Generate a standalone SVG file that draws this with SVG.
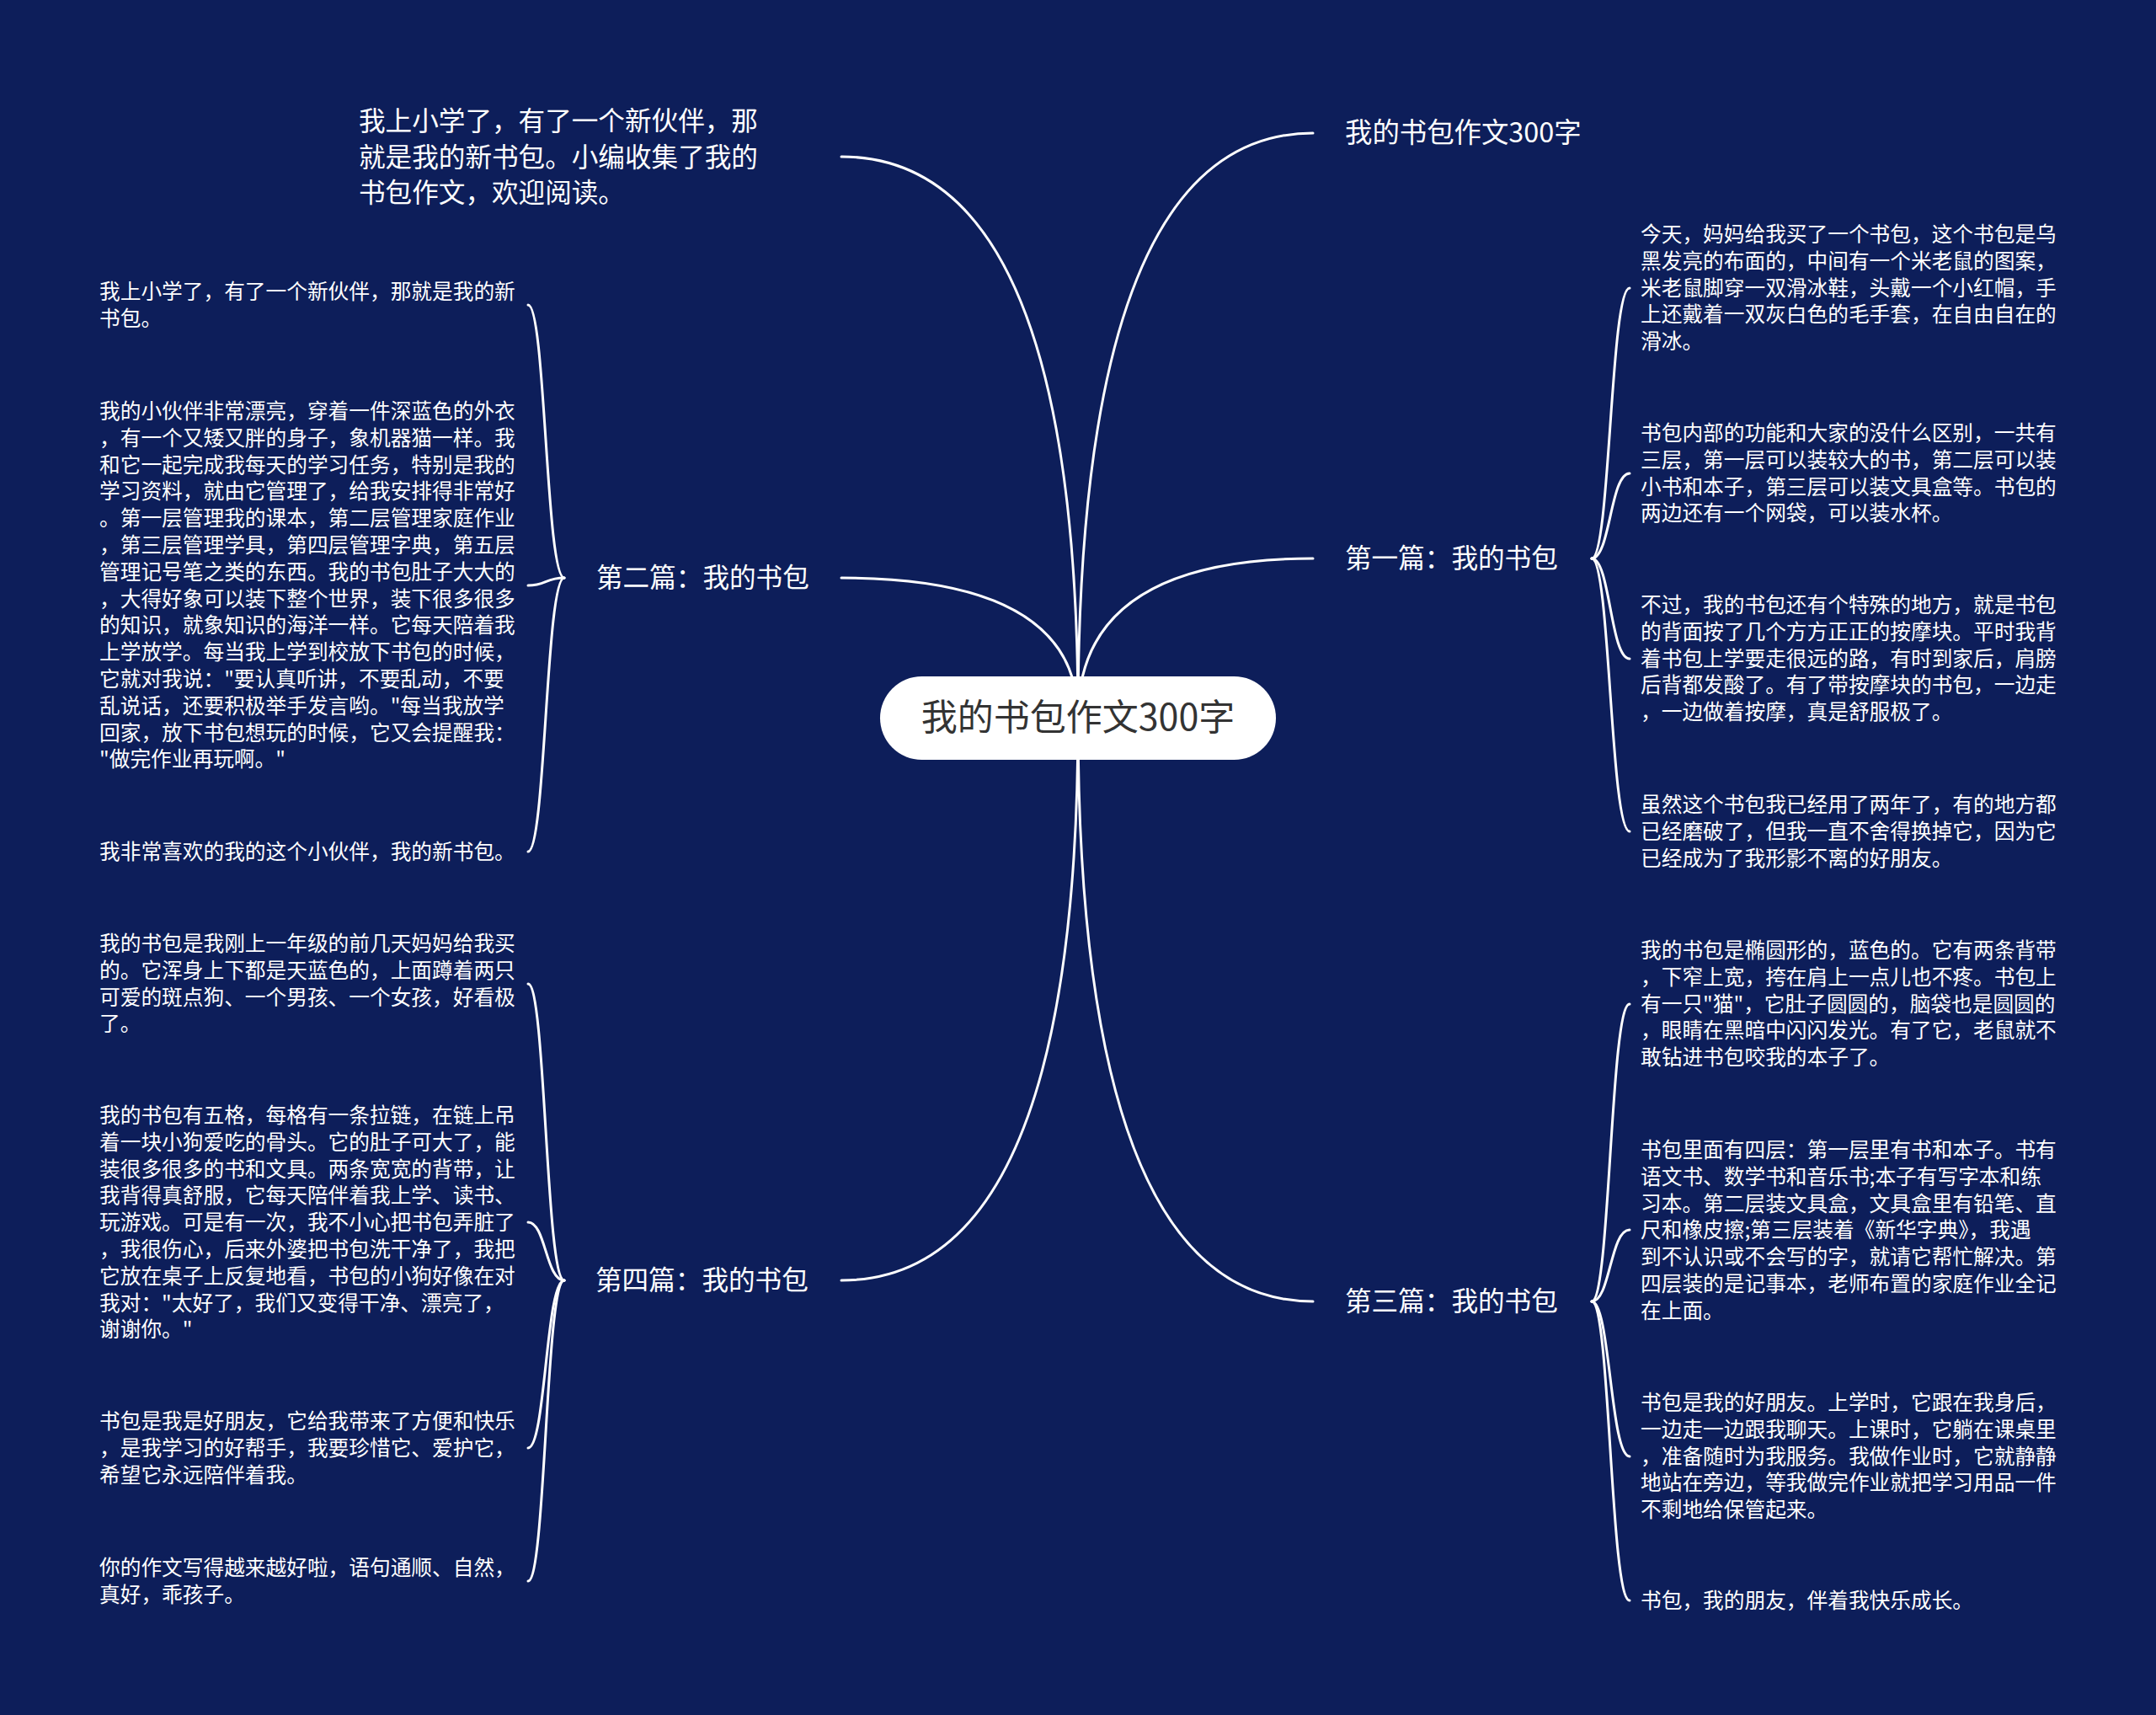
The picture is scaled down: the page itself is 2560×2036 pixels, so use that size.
<svg xmlns="http://www.w3.org/2000/svg" width="2560" height="2036" viewBox="0 0 2560 2036">
<style>
.bg{fill:#0d1e5a}
.ln{fill:none;stroke:#ffffff;stroke-width:3;stroke-linecap:round}
.leaf{font-family:"Noto Sans CJK SC","Noto Sans",sans-serif;font-size:24.7px;fill:#ffffff}
.br{font-family:"Noto Sans CJK SC","Noto Sans",sans-serif;font-size:31.6px;fill:#ffffff}
.tr{font-family:"Noto Sans CJK SC","Noto Sans",sans-serif;font-size:32.4px;fill:#ffffff}
.intro{font-family:"Noto Sans CJK SC","Noto Sans",sans-serif;font-size:31.6px;fill:#ffffff}
.root{font-family:"Noto Sans CJK SC","Noto Sans",sans-serif;font-size:43px;fill:#333333}
</style>
<rect class="bg" x="0" y="0" width="2560" height="2036"/>
<g id="connectors">
<path class="ln" d="M1280 852 Q1280 186 999 186"/>
<path class="ln" d="M1280 852 Q1280 686 999 686"/>
<path class="ln" d="M1280 852 Q1280 1520 999 1520"/>
<path class="ln" d="M1280 852 Q1280 158 1559 158"/>
<path class="ln" d="M1280 852 Q1280 663 1559 663"/>
<path class="ln" d="M1280 852 Q1280 1545 1559 1545"/>
<path class="ln" d="M670 686 C648 686 648 362 627 362"/>
<path class="ln" d="M670 686 C648 686 648 695 627 695"/>
<path class="ln" d="M670 686 C648 686 648 1011 627 1011"/>
<path class="ln" d="M670 1520 C648 1520 648 1168 627 1168"/>
<path class="ln" d="M670 1520 C648 1520 648 1451 627 1451"/>
<path class="ln" d="M670 1520 C648 1520 648 1719 627 1719"/>
<path class="ln" d="M670 1520 C648 1520 648 1877 627 1877"/>
<path class="ln" d="M1890 663 C1912 663 1912 342 1935 342"/>
<path class="ln" d="M1890 663 C1912 663 1912 562 1935 562"/>
<path class="ln" d="M1890 663 C1912 663 1912 782 1935 782"/>
<path class="ln" d="M1890 663 C1912 663 1912 987 1935 987"/>
<path class="ln" d="M1890 1545 C1912 1545 1912 1192 1935 1192"/>
<path class="ln" d="M1890 1545 C1912 1545 1912 1460 1935 1460"/>
<path class="ln" d="M1890 1545 C1912 1545 1912 1729 1935 1729"/>
<path class="ln" d="M1890 1545 C1912 1545 1912 1900 1935 1900"/>
</g>
<g id="root">
<rect x="1045" y="803" width="470" height="99" rx="49.5" fill="#ffffff"/>
<text class="root" x="1280" y="867" text-anchor="middle">我的书包作文300字</text>
</g>
<g id="intro">
<text class="intro" x="426" y="155"><tspan x="426" y="155">我上小学了，有了一个新伙伴，那</tspan><tspan x="426" y="197.5">就是我的新书包。小编收集了我的</tspan><tspan x="426" y="240">书包作文，欢迎阅读。</tspan></text>
</g>
<g id="title-right">
<text class="tr" x="1597" y="169">我的书包作文300字</text>
</g>
<g id="branch2">
<text class="br" x="708" y="697">第二篇：我的书包</text>
</g>
<g id="branch4">
<text class="br" x="707" y="1531">第四篇：我的书包</text>
</g>
<g id="branch1">
<text class="br" x="1597" y="674">第一篇：我的书包</text>
</g>
<g id="branch3">
<text class="br" x="1597" y="1556">第三篇：我的书包</text>
</g>
<g id="leaf-2a">
<text class="leaf"><tspan x="118" y="355">我上小学了，有了一个新伙伴，那就是我的新</tspan><tspan x="118" y="386.8">书包。</tspan></text>
</g>
<g id="leaf-2b">
<text class="leaf"><tspan x="118" y="497">我的小伙伴非常漂亮，穿着一件深蓝色的外衣</tspan><tspan x="118" y="528.8">，有一个又矮又胖的身子，象机器猫一样。我</tspan><tspan x="118" y="560.6">和它一起完成我每天的学习任务，特别是我的</tspan><tspan x="118" y="592.4">学习资料，就由它管理了，给我安排得非常好</tspan><tspan x="118" y="624.2">。第一层管理我的课本，第二层管理家庭作业</tspan><tspan x="118" y="656">，第三层管理学具，第四层管理字典，第五层</tspan><tspan x="118" y="687.8">管理记号笔之类的东西。我的书包肚子大大的</tspan><tspan x="118" y="719.6">，大得好象可以装下整个世界，装下很多很多</tspan><tspan x="118" y="751.4">的知识，就象知识的海洋一样。它每天陪着我</tspan><tspan x="118" y="783.2">上学放学。每当我上学到校放下书包的时候，</tspan><tspan x="118" y="815">它就对我说："要认真听讲，不要乱动，不要</tspan><tspan x="118" y="846.8">乱说话，还要积极举手发言哟。"每当我放学</tspan><tspan x="118" y="878.6">回家，放下书包想玩的时候，它又会提醒我：</tspan><tspan x="118" y="910.4">"做完作业再玩啊。"</tspan></text>
</g>
<g id="leaf-2c">
<text class="leaf"><tspan x="118" y="1020">我非常喜欢的我的这个小伙伴，我的新书包。</tspan></text>
</g>
<g id="leaf-4a">
<text class="leaf"><tspan x="118" y="1129">我的书包是我刚上一年级的前几天妈妈给我买</tspan><tspan x="118" y="1160.8">的。它浑身上下都是天蓝色的，上面蹲着两只</tspan><tspan x="118" y="1192.6">可爱的斑点狗、一个男孩、一个女孩，好看极</tspan><tspan x="118" y="1224.4">了。</tspan></text>
</g>
<g id="leaf-4b">
<text class="leaf"><tspan x="118" y="1333">我的书包有五格，每格有一条拉链，在链上吊</tspan><tspan x="118" y="1364.8">着一块小狗爱吃的骨头。它的肚子可大了，能</tspan><tspan x="118" y="1396.6">装很多很多的书和文具。两条宽宽的背带，让</tspan><tspan x="118" y="1428.4">我背得真舒服，它每天陪伴着我上学、读书、</tspan><tspan x="118" y="1460.2">玩游戏。可是有一次，我不小心把书包弄脏了</tspan><tspan x="118" y="1492">，我很伤心，后来外婆把书包洗干净了，我把</tspan><tspan x="118" y="1523.8">它放在桌子上反复地看，书包的小狗好像在对</tspan><tspan x="118" y="1555.6">我对："太好了，我们又变得干净、漂亮了，</tspan><tspan x="118" y="1587.4">谢谢你。"</tspan></text>
</g>
<g id="leaf-4c">
<text class="leaf"><tspan x="118" y="1696">书包是我是好朋友，它给我带来了方便和快乐</tspan><tspan x="118" y="1727.8">，是我学习的好帮手，我要珍惜它、爱护它，</tspan><tspan x="118" y="1759.6">希望它永远陪伴着我。</tspan></text>
</g>
<g id="leaf-4d">
<text class="leaf"><tspan x="118" y="1870">你的作文写得越来越好啦，语句通顺、自然，</tspan><tspan x="118" y="1901.8">真好，乖孩子。</tspan></text>
</g>
<g id="leaf-1a">
<text class="leaf"><tspan x="1948" y="287">今天，妈妈给我买了一个书包，这个书包是乌</tspan><tspan x="1948" y="318.8">黑发亮的布面的，中间有一个米老鼠的图案，</tspan><tspan x="1948" y="350.6">米老鼠脚穿一双滑冰鞋，头戴一个小红帽，手</tspan><tspan x="1948" y="382.4">上还戴着一双灰白色的毛手套，在自由自在的</tspan><tspan x="1948" y="414.2">滑冰。</tspan></text>
</g>
<g id="leaf-1b">
<text class="leaf"><tspan x="1948" y="523">书包内部的功能和大家的没什么区别，一共有</tspan><tspan x="1948" y="554.8">三层，第一层可以装较大的书，第二层可以装</tspan><tspan x="1948" y="586.6">小书和本子，第三层可以装文具盒等。书包的</tspan><tspan x="1948" y="618.4">两边还有一个网袋，可以装水杯。</tspan></text>
</g>
<g id="leaf-1c">
<text class="leaf"><tspan x="1948" y="727">不过，我的书包还有个特殊的地方，就是书包</tspan><tspan x="1948" y="758.8">的背面按了几个方方正正的按摩块。平时我背</tspan><tspan x="1948" y="790.6">着书包上学要走很远的路，有时到家后，肩膀</tspan><tspan x="1948" y="822.4">后背都发酸了。有了带按摩块的书包，一边走</tspan><tspan x="1948" y="854.2">，一边做着按摩，真是舒服极了。</tspan></text>
</g>
<g id="leaf-1d">
<text class="leaf"><tspan x="1948" y="964">虽然这个书包我已经用了两年了，有的地方都</tspan><tspan x="1948" y="995.8">已经磨破了，但我一直不舍得换掉它，因为它</tspan><tspan x="1948" y="1027.6">已经成为了我形影不离的好朋友。</tspan></text>
</g>
<g id="leaf-3a">
<text class="leaf"><tspan x="1948" y="1137">我的书包是椭圆形的，蓝色的。它有两条背带</tspan><tspan x="1948" y="1168.8">，下窄上宽，挎在肩上一点儿也不疼。书包上</tspan><tspan x="1948" y="1200.6">有一只"猫"，它肚子圆圆的，脑袋也是圆圆的</tspan><tspan x="1948" y="1232.4">，眼睛在黑暗中闪闪发光。有了它，老鼠就不</tspan><tspan x="1948" y="1264.2">敢钻进书包咬我的本子了。</tspan></text>
</g>
<g id="leaf-3b">
<text class="leaf"><tspan x="1948" y="1374">书包里面有四层：第一层里有书和本子。书有</tspan><tspan x="1948" y="1405.8">语文书、数学书和音乐书;本子有写字本和练</tspan><tspan x="1948" y="1437.6">习本。第二层装文具盒，文具盒里有铅笔、直</tspan><tspan x="1948" y="1469.4">尺和橡皮擦;第三层装着《新华字典》，我遇</tspan><tspan x="1948" y="1501.2">到不认识或不会写的字，就请它帮忙解决。第</tspan><tspan x="1948" y="1533">四层装的是记事本，老师布置的家庭作业全记</tspan><tspan x="1948" y="1564.8">在上面。</tspan></text>
</g>
<g id="leaf-3c">
<text class="leaf"><tspan x="1948" y="1674">书包是我的好朋友。上学时，它跟在我身后，</tspan><tspan x="1948" y="1705.8">一边走一边跟我聊天。上课时，它躺在课桌里</tspan><tspan x="1948" y="1737.6">，准备随时为我服务。我做作业时，它就静静</tspan><tspan x="1948" y="1769.4">地站在旁边，等我做完作业就把学习用品一件</tspan><tspan x="1948" y="1801.2">不剩地给保管起来。</tspan></text>
</g>
<g id="leaf-3d">
<text class="leaf"><tspan x="1948" y="1909">书包，我的朋友，伴着我快乐成长。</tspan></text>
</g>
</svg>
